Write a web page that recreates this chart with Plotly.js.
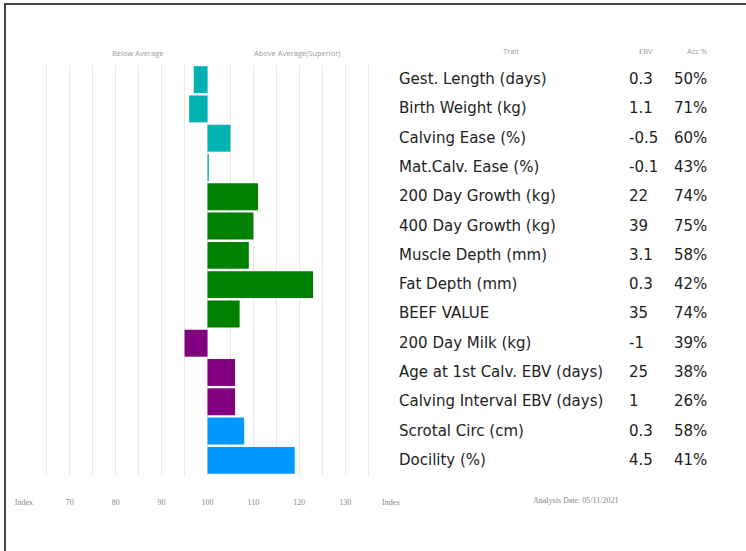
<!DOCTYPE html>
<html>
<head>
<meta charset="utf-8">
<script src="https://cdn.plot.ly/plotly-3.0.1.min.js"></script>
<style>html,body{margin:0;padding:0;background:#fff;}#chart{width:746px;height:551px;}</style>
</head>
<body>
<div id="chart"></div>
<script>
const traits = ["Gest. Length (days)","Birth Weight (kg)","Calving Ease (%)","Mat.Calv. Ease (%)","200 Day Growth (kg)","400 Day Growth (kg)","Muscle Depth (mm)","Fat Depth (mm)","BEEF VALUE","200 Day Milk (kg)","Age at 1st Calv. EBV (days)","Calving Interval EBV (days)","Scrotal Circ (cm)","Docility (%)"];
const indexValues = [97, 96, 105, 100.3, 111, 110, 109, 123, 107, 95, 106, 106, 108, 119];
const ebv = ["0.3","1.1","-0.5","-0.1","22","39","3.1","0.3","35","-1","25","1","0.3","4.5"];
const acc = ["50%","71%","60%","43%","74%","75%","58%","42%","74%","39%","38%","26%","58%","41%"];
const barColors = ["#00b3b3","#00b3b3","#00b3b3","#00b3b3","#008000","#008000","#008000","#008000","#008000","#800080","#800080","#800080","#0099ff","#0099ff"];
const tickVals = [60,65,70,75,80,85,90,95,100,105,110,115,120,125,130,135,140];
const tickText = ["Index","","70","","80","","90","","100","","110","","120","","130","","Index"];
const headerLeft = "Below Average";
const headerRight = "Above Average(Superior)";
const tableHeaders = ["Trait","EBV","Acc %"];
const analysisDate = "Analysis Date: 05/11/2021";

const W = 746, H = 551;
const mL = 23, mR = 354, mT = 65, mB = 76;
const pw = W - mL - mR, ph = H - mT - mB;
const px = v => (v - mL) / pw;           // pixel x -> paper x
const py = v => (H - mB - v) / ph;       // pixel y -> paper y

const mainFont = "DejaVu Sans, sans-serif";
const smallFont = "Liberation Serif, DejaVu Serif, serif";
const rowFont = {family: mainFont, size: 15, color: "#222"};

const annotations = [];
traits.forEach((t, i) => {
  annotations.push({xref:"paper", yref:"y", x: px(397), y: t, yshift: 0.5, text: t, showarrow:false, xanchor:"left", yanchor:"middle", font: rowFont});
  annotations.push({xref:"paper", yref:"y", x: px(627), y: t, yshift: 0.5, text: ebv[i], showarrow:false, xanchor:"left", yanchor:"middle", font: rowFont});
  annotations.push({xref:"paper", yref:"y", x: px(672), y: t, yshift: 0.5, text: acc[i], showarrow:false, xanchor:"left", yanchor:"middle", font: rowFont});
});
const hdrFont = {family: "Open Sans, sans-serif", size: 7.5, color: "#999"};
annotations.push({xref:"paper", yref:"paper", x: px(137), y: py(53), text: headerLeft, showarrow:false, xanchor:"center", yanchor:"middle", font:hdrFont});
annotations.push({xref:"paper", yref:"paper", x: px(297), y: py(53), text: headerRight, showarrow:false, xanchor:"center", yanchor:"middle", font:hdrFont});
annotations.push({xref:"paper", yref:"paper", x: px(511), y: py(51), text: tableHeaders[0], showarrow:false, xanchor:"center", yanchor:"middle", font:hdrFont});
annotations.push({xref:"paper", yref:"paper", x: px(646), y: py(51), text: tableHeaders[1], showarrow:false, xanchor:"center", yanchor:"middle", font:hdrFont});
annotations.push({xref:"paper", yref:"paper", x: px(697), y: py(51), text: tableHeaders[2], showarrow:false, xanchor:"center", yanchor:"middle", font:hdrFont});
annotations.push({xref:"paper", yref:"paper", x: px(575), y: py(500), text: analysisDate, showarrow:false, xanchor:"center", yanchor:"middle", font:{family:smallFont, size:8, color:"#888"}});

const trace = {
  type: "bar",
  orientation: "h",
  y: traits,
  x: indexValues.map(v => v - 100),
  base: 100,
  marker: {color: barColors, line: {width: 0}},
  hoverinfo: "skip"
};

const layout = {
  width: W, height: H,
  margin: {l: mL, r: mR, t: mT, b: mB, pad: 0},
  paper_bgcolor: "#fff", plot_bgcolor: "#fff",
  showlegend: false,
  bargap: 0.08,
  xaxis: {
    range: [59.8, 140.2], tickmode: "array", tickvals: tickVals, ticktext: tickText,
    showgrid: true, gridcolor: "#e8e8e8", gridwidth: 1.2, zeroline: false, showline: false,
    ticks: "outside", ticklen: 19, tickcolor: "rgba(0,0,0,0)",
    tickfont: {family: smallFont, size: 8, color: "#888"}, fixedrange: true
  },
  yaxis: {
    type: "category", autorange: "reversed", showticklabels: false, showgrid: false,
    zeroline: false, showline: false, ticks: "", fixedrange: true
  },
  annotations: annotations,
  shapes: [
    {type:"line", xref:"paper", yref:"paper", x0: px(5), x1: px(5), y0: py(3), y1: py(551), line:{color:"#444", width:2}},
    {type:"line", xref:"paper", yref:"paper", x0: px(4), x1: px(746), y0: py(4), y1: py(4), line:{color:"#444", width:2}}
  ]
};

Plotly.newPlot("chart", [trace], layout, {displayModeBar: false, staticPlot: true});
</script>
</body>
</html>
